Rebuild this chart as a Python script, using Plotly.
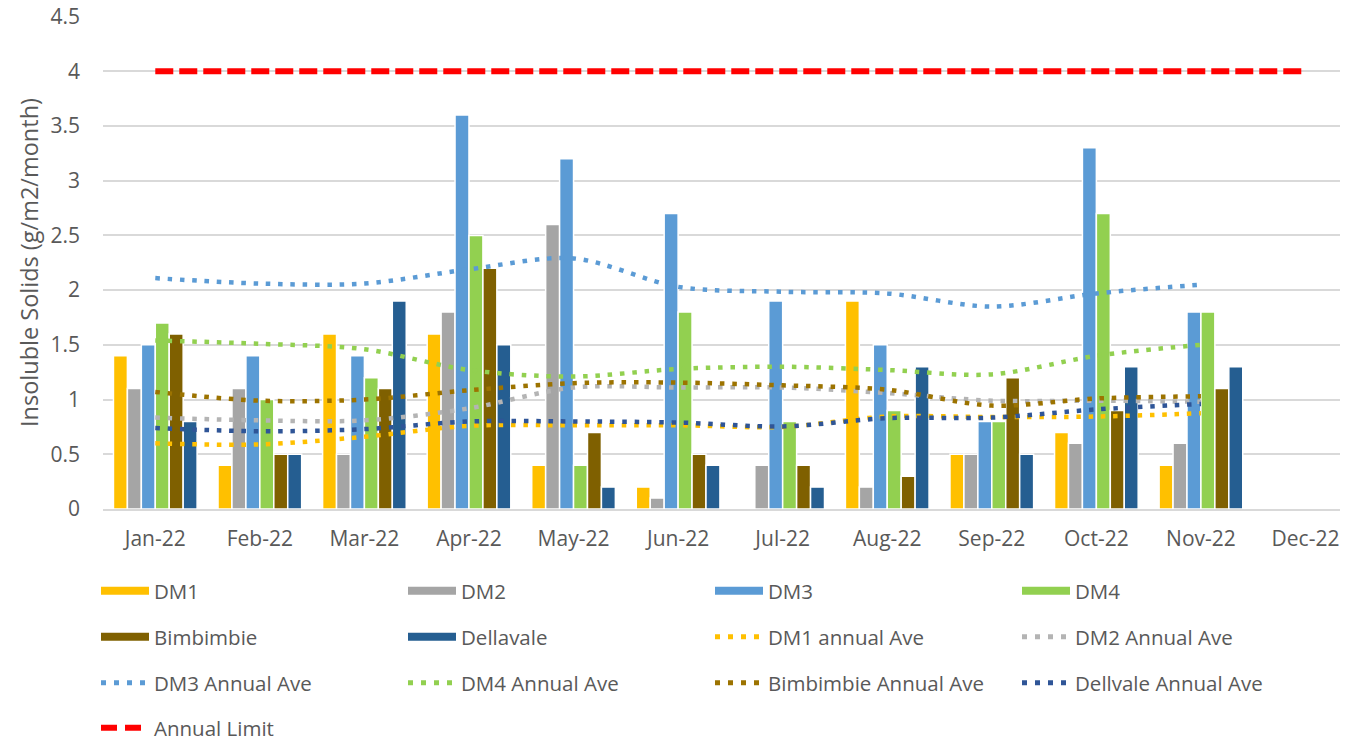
import plotly.graph_objects as go

months = ["Jan-22", "Feb-22", "Mar-22", "Apr-22", "May-22", "Jun-22",
          "Jul-22", "Aug-22", "Sep-22", "Oct-22", "Nov-22", "Dec-22"]

dm1 = [1.4, 0.4, 1.6, 1.6, 0.4, 0.2, None, 1.9, 0.5, 0.7, 0.4, None]
dm2 = [1.1, 1.1, 0.5, 1.8, 2.6, 0.1, 0.4, 0.2, 0.5, 0.6, 0.6, None]
dm3 = [1.5, 1.4, 1.4, 3.6, 3.2, 2.7, 1.9, 1.5, 0.8, 3.3, 1.8, None]
dm4 = [1.7, 1.0, 1.2, 2.5, 0.4, 1.8, 0.8, 0.9, 0.8, 2.7, 1.8, None]
bimbimbie = [1.6, 0.5, 1.1, 2.2, 0.7, 0.5, 0.4, 0.3, 1.2, 0.9, 1.1, None]
dellavale = [0.8, 0.5, 1.9, 1.5, 0.2, 0.4, 0.2, 1.3, 0.5, 1.3, 1.3, None]

dm1_ave = [0.60, 0.59, 0.66, 0.76, 0.765, 0.765, 0.75, 0.845, 0.84, 0.845, 0.875, None]
dm2_ave = [0.835, 0.81, 0.81, 0.92, 1.11, 1.11, 1.11, 1.06, 0.99, 0.99, 0.98, None]
dm3_ave = [2.11, 2.06, 2.06, 2.19, 2.29, 2.03, 1.985, 1.97, 1.85, 1.97, 2.05, None]
dm4_ave = [1.54, 1.51, 1.46, 1.27, 1.21, 1.28, 1.30, 1.27, 1.23, 1.40, 1.50, None]
bimb_ave = [1.07, 0.99, 1.00, 1.085, 1.15, 1.155, 1.13, 1.09, 0.945, 1.01, 1.03, None]
dell_ave = [0.74, 0.71, 0.73, 0.80, 0.80, 0.79, 0.755, 0.83, 0.835, 0.91, 0.96, None]
annual_limit = [4, 4, 4, 4, 4, 4, 4, 4, 4, 4, 4, 4]

bar_series = [
    ("DM1", dm1, "#FFC000"),
    ("DM2", dm2, "#A5A5A5"),
    ("DM3", dm3, "#5B9BD5"),
    ("DM4", dm4, "#92D050"),
    ("Bimbimbie", bimbimbie, "#7F6000"),
    ("Dellavale", dellavale, "#255E91"),
]
ave_series = [
    ("DM1 annual Ave", dm1_ave, "#FFC000"),
    ("DM2 Annual Ave", dm2_ave, "#B4B4B4"),
    ("DM3 Annual Ave", dm3_ave, "#5B9BD5"),
    ("DM4 Annual Ave", dm4_ave, "#92D050"),
    ("Bimbimbie Annual Ave", bimb_ave, "#9C7300"),
    ("Dellvale Annual Ave", dell_ave, "#2F5597"),
]

FONT = "Open Sans"
TXT = "#595959"

fig = go.Figure()

for name, vals, col in bar_series:
    fig.add_trace(go.Bar(x=months, y=vals, name=name, marker_color=col,
                         marker_line=dict(color="white", width=1.5),
                         showlegend=False, legendgroup=name))

for name, vals, col in ave_series:
    fig.add_trace(go.Scatter(x=months, y=vals, name=name, mode="lines",
                             line=dict(color=col, width=4.5, dash="4.5px,7.8px",
                                       shape="spline", smoothing=0.9),
                             showlegend=False, legendgroup=name, connectgaps=False))

fig.add_trace(go.Scatter(x=months, y=annual_limit, name="Annual Limit", mode="lines",
                         line=dict(color="#FF0000", width=6, dash="18px,6px"),
                         showlegend=False, legendgroup="Annual Limit"))

# legend entries (one legend per row, as in the reference)
rows = [
    [(n, c, "solid", 8) for n, _, c in bar_series[:4]],
    [(n, c, "solid", 8) for n, _, c in bar_series[4:]] +
    [(n, c, "5px,8px", 5) for n, _, c in ave_series[:2]],
    [(n, c, "5px,8px", 5) for n, _, c in ave_series[2:]],
    [("Annual Limit", "#FF0000", "16px,8px", 6)],
]
legend_names = ["legend", "legend2", "legend3", "legend4"]
for lname, row in zip(legend_names, rows):
    for n, c, d, w in row:
        fig.add_trace(go.Scatter(x=[None], y=[None], name=n, mode="lines",
                                 line=dict(color=c, width=w, dash=d),
                                 legend=lname, legendgroup=n, hoverinfo="skip"))

W, H = 1348, 741
PLOT_TOP, PLOT_BOT, PLOT_L, PLOT_R = 16, 509, 103, 1340
row_y = [591, 637, 683, 728]
leg_common = dict(orientation="h", xref="paper", yref="paper",
                  x=(96 - PLOT_L) / (PLOT_R - PLOT_L), xanchor="left", yanchor="middle",
                  entrywidth=244, entrywidthmode="pixels", itemwidth=48,
                  font=dict(family=FONT, size=20.5, color=TXT),
                  bgcolor="rgba(0,0,0,0)", itemclick=False, itemdoubleclick=False)
layout_legends = {}
for lname, py in zip(legend_names, row_y):
    layout_legends[lname] = dict(leg_common, y=(PLOT_BOT - py) / (PLOT_BOT - PLOT_TOP))

fig.update_layout(
    width=W, height=H,
    margin=dict(l=PLOT_L, r=W - PLOT_R, t=PLOT_TOP, b=H - PLOT_BOT, autoexpand=False),
    paper_bgcolor="white", plot_bgcolor="white",
    barmode="group", bargap=0.2, bargroupgap=0,
    font=dict(family=FONT, size=20, color=TXT),
    showlegend=True,
    **layout_legends,
)

fig.update_xaxes(type="category", range=[-0.5, 11.33], showgrid=False, automargin=False,
                 showline=True, linecolor="#D9D9D9", linewidth=1.5,
                 ticks="", tickfont=dict(family=FONT, size=21, color=TXT),
                 ticklabelstandoff=10)
fig.update_yaxes(range=[0, 4.505], tick0=0, dtick=0.5, showgrid=True, gridcolor="#D9D9D9",
                 gridwidth=1.5, zeroline=False, showline=False, ticks="", automargin=False,
                 tickfont=dict(family=FONT, size=21, color=TXT),
                 ticklabelstandoff=22,
                 title=dict(text="Insoluble Solids (g/m2/month)", standoff=5,
                            font=dict(family=FONT, size=23.5, color=TXT)))

fig.write_html("out.html", config={"displayModeBar": False},
               post_script="document.body.style.margin='0';document.body.style.overflow='hidden';")
